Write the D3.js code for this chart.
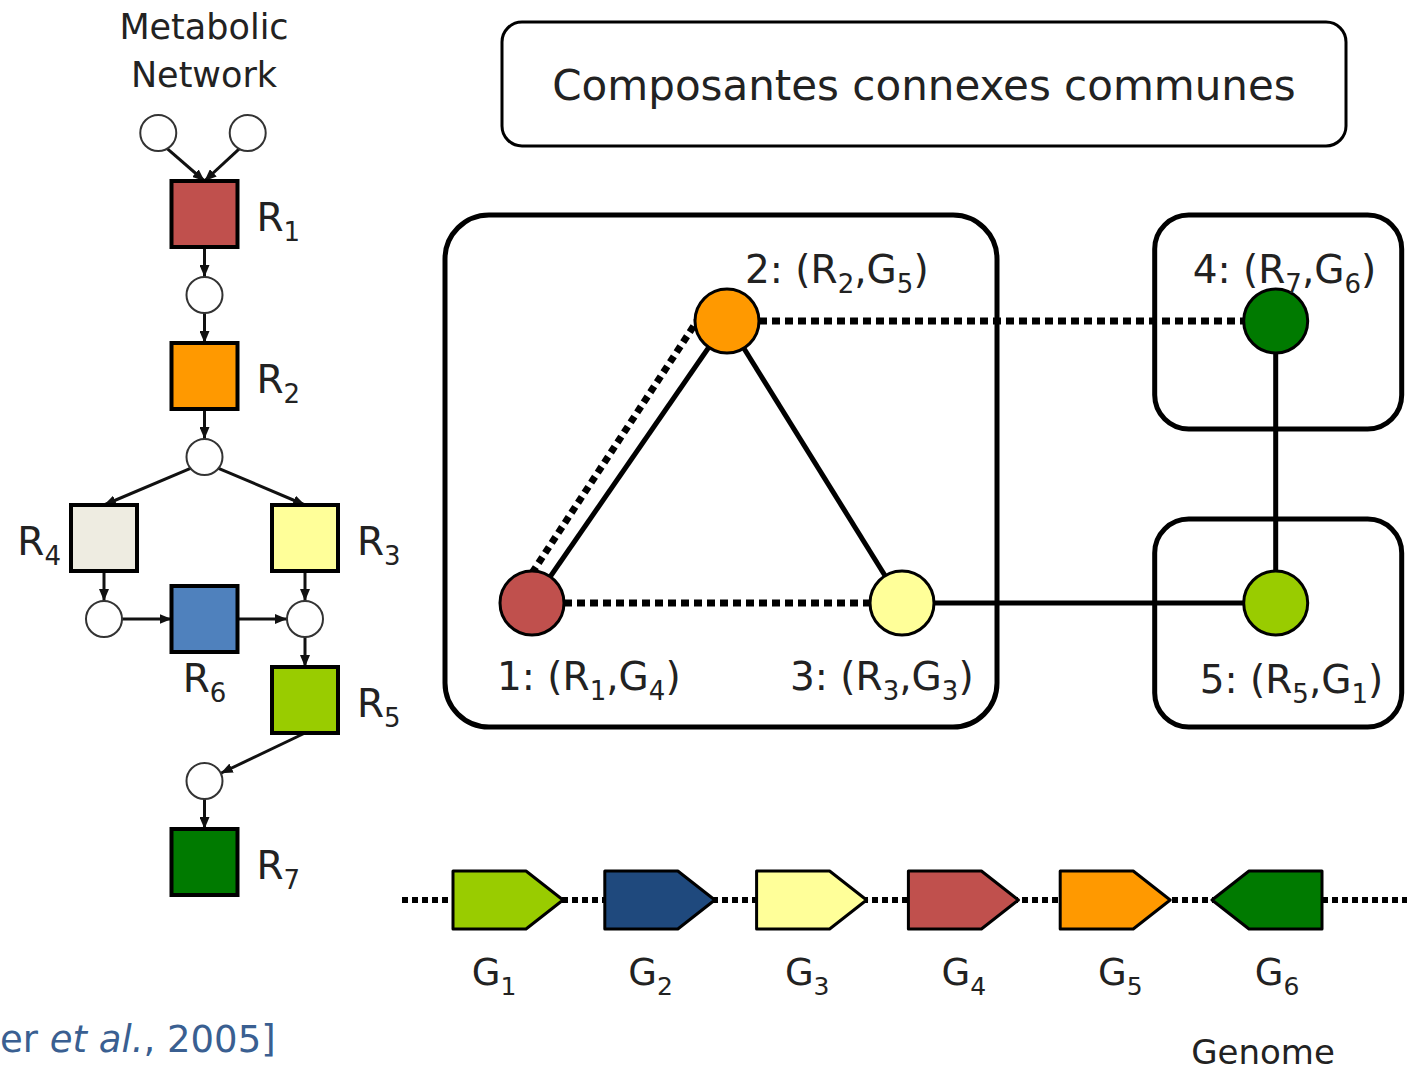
<!DOCTYPE html>
<html>
<head>
  <meta charset="utf-8">
  <title>Composantes connexes communes</title>
  <script src="https://d3js.org/d3.v7.min.js"></script>
  <style>
    html, body { margin: 0; padding: 0; background: #fff; }
    svg { display: block; }
    text { font-family: "DejaVu Sans", Verdana, sans-serif; fill: #222; }
  </style>
</head>
<body>
<svg id="fig" width="1407" height="1071"></svg>
<script>
"use strict"

// --- reseau metabolique (grille colonne / ligne) ---
var reactionNames  = ["R_1", "R_2", "R_3", "R_4", "R_5", "R_6", "R_7"];
var reactionColors = ["#C0504D", "#FF9900", "#FFFF99", "#EEECE1", "#99CC00", "#4F81BD", "#007A00"];
var reactionCol    = [1, 1, 2, 0, 2, 1, 1];
var reactionRow    = [1, 3, 5, 5, 7, 6, 9];
var reactionSide   = ["right", "right", "right", "left", "right", "below", "right"];

var metaboliteCol  = [0.54, 1.43, 1, 1, 0, 2, 1];
var metaboliteRow  = [0, 0, 2, 4, 6, 6, 8];

// arcs : source -> cible ("R3" = reaction, "M2" = metabolite)
var reactionEdges = [
  ["M0", "R0"], ["M1", "R0"], ["R0", "M2"], ["M2", "R1"], ["R1", "M3"],
  ["M3", "R3"], ["M3", "R2"], ["R3", "M4"], ["M4", "R5"], ["R5", "M5"],
  ["R2", "M5"], ["M5", "R4"], ["R4", "M6"], ["M6", "R6"]
];

// --- graphe des composantes ---
var graphLabels = ["1: (R_1,G_4)", "2: (R_2,G_5)", "3: (R_3,G_3)", "4: (R_7,G_6)", "5: (R_5,G_1)"];
var graphColors = ["#C0504D", "#FF9900", "#FFFF99", "#007A00", "#99CC00"];
var graphCol    = [0, 0.527, 1, 2.01, 2.01];
var graphRow    = [1, 0, 1, 0, 1];
var solidEdges  = [[0, 1], [1, 2], [2, 4], [3, 4]];
var dottedEdges = [[0, 2], [1, 3]];
var components  = [[0, 1, 2], [3], [4]];

// --- genome ---
var geneLabels  = ["G_1", "G_2", "G_3", "G_4", "G_5", "G_6"];
var geneColors  = ["#99CC00", "#1F497D", "#FFFF99", "#C0504D", "#FF9900", "#007A00"];
var geneForward = [true, true, true, true, true, false];

var svg = d3.select("#fig");

// marqueur fleche
svg.append("defs").append("marker")
  .attr("id", "arrow")
  .attr("viewBox", "0 0 12 10")
  .attr("refX", 12).attr("refY", 5)
  .attr("markerWidth", 12).attr("markerHeight", 10)
  .attr("markerUnits", "userSpaceOnUse")
  .attr("orient", "auto")
  .append("path")
  .attr("d", "M0,0 L12,5 L0,10 Z")
  .attr("fill", "#111");

// texte avec indices (R_1 -> R avec 1 en indice)
function richText(sel, str, subSize, shift) {
  var parts = str.split(/_(\w)/);
  parts.forEach(function(p, i) {
    if (p === "") return;
    var t = sel.append("tspan").text(p);
    if (i % 2 === 1) {
      t.attr("font-size", subSize).attr("dy", shift);
    } else if (i > 0) {
      t.attr("dy", -shift);
    }
  });
}

// ================= reseau metabolique =================
var colX = d3.scaleLinear().domain([0, 2]).range([104, 305]);
var rowY = d3.scaleLinear().domain([0, 9]).range([133, 862]);
var half = 33, metR = 18;

var left = svg.append("g");

left.append("text").attr("x", 204).attr("y", 39).attr("text-anchor", "middle")
  .attr("font-size", 35).attr("fill", "#333").text("Metabolic");
left.append("text").attr("x", 204).attr("y", 87).attr("text-anchor", "middle")
  .attr("font-size", 35).attr("fill", "#333").text("Network");

function nodePos(id) {
  var k = +id.slice(1);
  if (id[0] === "R") return {x: colX(reactionCol[k]), y: rowY(reactionRow[k]), sq: true};
  return {x: colX(metaboliteCol[k]), y: rowY(metaboliteRow[k]), sq: false};
}

// point d'attache : milieu d'un cote pour les carres, bord pour les cercles
function anchor(p, q) {
  if (p.sq) {
    var dx = q.x - p.x, dy = q.y - p.y;
    if (Math.abs(dy) >= Math.abs(dx) * 0.35) return {x: p.x, y: p.y + (dy > 0 ? half : -half)};
    return {x: p.x + (dx > 0 ? half : -half), y: p.y};
  }
  var a = Math.atan2(q.y - p.y, q.x - p.x);
  return {x: p.x + metR * Math.cos(a), y: p.y + metR * Math.sin(a)};
}

reactionEdges.forEach(function(e) {
  var s = nodePos(e[0]), t = nodePos(e[1]);
  var a = anchor(s, t);
  var b = anchor(t, a);
  left.append("line")
    .attr("x1", a.x).attr("y1", a.y).attr("x2", b.x).attr("y2", b.y)
    .attr("stroke", "#111").attr("stroke-width", 3)
    .attr("marker-end", "url(#arrow)");
});

left.selectAll("circle.met")
  .data(metaboliteCol)
  .join("circle")
  .attr("class", "met")
  .attr("cx", function(d) { return colX(d); })
  .attr("cy", function(d, i) { return rowY(metaboliteRow[i]); })
  .attr("r", metR)
  .attr("fill", "#fff").attr("stroke", "#333").attr("stroke-width", 2);

left.selectAll("rect.reac")
  .data(reactionNames)
  .join("rect")
  .attr("class", "reac")
  .attr("x", function(d, i) { return colX(reactionCol[i]) - half; })
  .attr("y", function(d, i) { return rowY(reactionRow[i]) - half; })
  .attr("width", half * 2).attr("height", half * 2)
  .attr("fill", function(d, i) { return reactionColors[i]; })
  .attr("stroke", "#000").attr("stroke-width", 4);

reactionNames.forEach(function(name, i) {
  var cx = colX(reactionCol[i]), cy = rowY(reactionRow[i]);
  var side = reactionSide[i];
  var t = left.append("text").attr("font-size", 39).attr("fill", "#333");
  if (side === "right") t.attr("x", cx + 52).attr("y", cy + 17);
  if (side === "left") t.attr("x", cx - 43).attr("y", cy + 17).attr("text-anchor", "end");
  if (side === "below") t.attr("x", cx).attr("y", cy + 73).attr("text-anchor", "middle");
  richText(t, name, 26, 10);
});

// ================= titre =================
svg.append("rect")
  .attr("x", 502).attr("y", 22).attr("width", 844).attr("height", 124)
  .attr("rx", 20).attr("fill", "#fff").attr("stroke", "#000").attr("stroke-width", 3);
svg.append("text")
  .attr("x", 924).attr("y", 100).attr("text-anchor", "middle")
  .attr("font-size", 42).attr("fill", "#000")
  .text("Composantes connexes communes");

// ================= graphe =================
var gX = d3.scaleLinear().domain([0, 1]).range([532, 902]);
var gY = d3.scaleLinear().domain([0, 1]).range([321, 603]);
var nodeR = 32;
var graph = svg.append("g");

// cadres arrondis autour des composantes
var padTop = 106, padBottom = 124, padInnerTop = 84, padInnerBottom = 108;
components.forEach(function(c) {
  var xs = c.map(function(k) { return gX(graphCol[k]); });
  var ys = c.map(function(k) { return gY(graphRow[k]); });
  var single = c.length === 1;
  var x0 = d3.min(xs) - (single ? 121 : 87);
  var x1 = d3.max(xs) + (single ? 126 : 95);
  var top = d3.min(ys), bot = d3.max(ys);
  var y0 = top - (graphRow[c[0]] === 0 || !single ? padTop : padInnerTop);
  var y1 = bot + (graphRow[c[0]] === 1 || !single ? padBottom : padInnerBottom);
  graph.append("rect")
    .attr("x", x0).attr("y", y0).attr("width", x1 - x0).attr("height", y1 - y0)
    .attr("rx", single ? 34 : 44)
    .attr("fill", "none").attr("stroke", "#000").attr("stroke-width", 5);
});

function gp(k) { return {x: gX(graphCol[k]), y: gY(graphRow[k])}; }

// aretes pointillees
dottedEdges.forEach(function(e) {
  var a = gp(e[0]), b = gp(e[1]);
  graph.append("line")
    .attr("x1", a.x + nodeR).attr("y1", a.y).attr("x2", b.x - nodeR).attr("y2", b.y)
    .attr("stroke", "#000").attr("stroke-width", 7).attr("stroke-dasharray", "8,5");
});
// pointille parallele entre 1 et 2
(function() {
  var a = gp(0), b = gp(1);
  graph.append("line")
    .attr("x1", a.x).attr("y1", a.y - nodeR + 2).attr("x2", b.x - nodeR + 2).attr("y2", b.y)
    .attr("stroke", "#000").attr("stroke-width", 7).attr("stroke-dasharray", "7,5");
})();

// aretes pleines
solidEdges.forEach(function(e) {
  var a = gp(e[0]), b = gp(e[1]);
  graph.append("line")
    .attr("x1", a.x).attr("y1", a.y).attr("x2", b.x).attr("y2", b.y)
    .attr("stroke", "#000").attr("stroke-width", 5);
});

graph.selectAll("circle.gn")
  .data(graphLabels)
  .join("circle")
  .attr("class", "gn")
  .attr("cx", function(d, i) { return gX(graphCol[i]); })
  .attr("cy", function(d, i) { return gY(graphRow[i]); })
  .attr("r", nodeR)
  .attr("fill", function(d, i) { return graphColors[i]; })
  .attr("stroke", "#000").attr("stroke-width", 3);

// position des etiquettes relative au noeud
var labelOffset = [[-35, 87], [18, -38], [-112, 87], [-83, -38], [-76, 90]];
graphLabels.forEach(function(lab, i) {
  var p = gp(i);
  var t = graph.append("text")
    .attr("x", p.x + labelOffset[i][0]).attr("y", p.y + labelOffset[i][1])
    .attr("font-size", 39).attr("fill", "#333");
  richText(t, lab, 26, 10);
});

// ================= genome =================
var geneX = d3.scaleLinear().domain([0, geneLabels.length - 1]).range([453, 1212]);
var geneLabX = d3.scaleLinear().domain([0, geneLabels.length - 1]).range([494, 1277]);
var gTop = 871, gH = 58, body = 73, tip = 37;
var genome = svg.append("g");

genome.append("line")
  .attr("x1", 402).attr("y1", gTop + gH / 2).attr("x2", 1407).attr("y2", gTop + gH / 2)
  .attr("stroke", "#000").attr("stroke-width", 6).attr("stroke-dasharray", "6,4");

genome.selectAll("path.gene")
  .data(geneLabels)
  .join("path")
  .attr("class", "gene")
  .attr("d", function(d, i) {
    var x = geneX(i), m = gTop + gH / 2, b = gTop + gH;
    if (geneForward[i]) {
      return "M" + x + "," + gTop + "H" + (x + body) + "L" + (x + body + tip) + "," + m +
             "L" + (x + body) + "," + b + "H" + x + "Z";
    }
    return "M" + x + "," + m + "L" + (x + tip) + "," + gTop + "H" + (x + tip + body) +
           "V" + b + "H" + (x + tip) + "Z";
  })
  .attr("fill", function(d, i) { return geneColors[i]; })
  .attr("stroke", "#000").attr("stroke-width", 3).attr("stroke-linejoin", "round");

geneLabels.forEach(function(lab, i) {
  var t = genome.append("text")
    .attr("x", geneLabX(i)).attr("y", 985).attr("text-anchor", "middle")
    .attr("font-size", 37).attr("fill", "#333");
  richText(t, lab, 25, 10);
});

genome.append("text")
  .attr("x", 1263).attr("y", 1064).attr("text-anchor", "middle")
  .attr("font-size", 34).attr("fill", "#333").text("Genome");

// ================= reference =================
var cite = svg.append("text")
  .attr("x", 0).attr("y", 1052).attr("font-size", 37).style("fill", "#3A5F91");
cite.append("tspan").text("er ");
cite.append("tspan").attr("font-style", "italic").text("et al.");
cite.append("tspan").text(", 2005]");
</script>
</body>
</html>
